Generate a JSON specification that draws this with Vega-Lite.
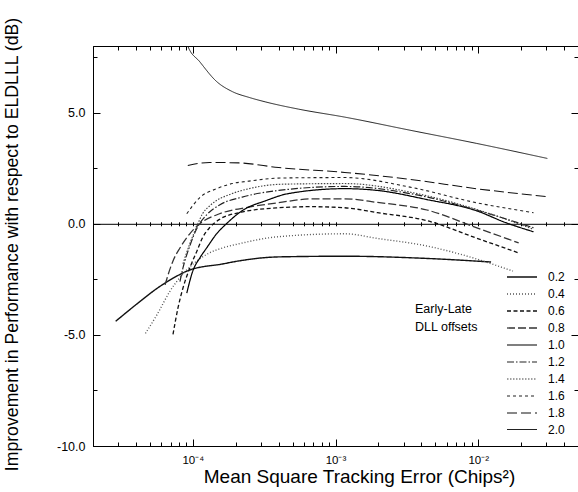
{
  "$schema": "https://vega.github.io/schema/vega-lite/v6.json",
  "width": 485,
  "height": 400,
  "autosize": {"type": "none"},
  "padding": {"left": 93, "top": 46, "right": 0, "bottom": 46},
  "background": "white",
  "config": {
    "font": "Liberation Sans",
    "view": {"stroke": "black", "strokeWidth": 1},
    "axis": {"grid": false, "domainColor": "black", "labelColor": "black", "titleColor": "black", "titleFontWeight": "normal", "labelFont": "Liberation Sans", "titleFont": "Liberation Sans"}
  },
  "data": {
    "values": [
      {"offset": "0.2", "x": 2.88e-5, "y": -4.39},
      {"offset": "0.2", "x": 4.30e-5, "y": -3.48},
      {"offset": "0.2", "x": 5.64e-5, "y": -2.90},
      {"offset": "0.2", "x": 7.27e-5, "y": -2.45},
      {"offset": "0.2", "x": 9.53e-5, "y": -2.08},
      {"offset": "0.2", "x": 1.61e-4, "y": -1.81},
      {"offset": "0.2", "x": 2.11e-4, "y": -1.67},
      {"offset": "0.2", "x": 4.0e-4, "y": -1.49},
      {"offset": "0.2", "x": 1.16e-3, "y": -1.46},
      {"offset": "0.2", "x": 4.37e-3, "y": -1.56},
      {"offset": "0.2", "x": 1.23e-2, "y": -1.72},

      {"offset": "0.4", "x": 4.66e-5, "y": -4.93},
      {"offset": "0.4", "x": 5.64e-5, "y": -4.07},
      {"offset": "0.4", "x": 6.93e-5, "y": -3.03},
      {"offset": "0.4", "x": 8.53e-5, "y": -2.26},
      {"offset": "0.4", "x": 1.07e-4, "y": -1.67},
      {"offset": "0.4", "x": 1.31e-4, "y": -1.31},
      {"offset": "0.4", "x": 1.61e-4, "y": -1.09},
      {"offset": "0.4", "x": 2.11e-4, "y": -0.90},
      {"offset": "0.4", "x": 4.0e-4, "y": -0.58},
      {"offset": "0.4", "x": 1.16e-3, "y": -0.45},
      {"offset": "0.4", "x": 1.97e-3, "y": -0.66},
      {"offset": "0.4", "x": 4.37e-3, "y": -1.0},
      {"offset": "0.4", "x": 7.4e-3, "y": -1.36},
      {"offset": "0.4", "x": 1.75e-2, "y": -2.13},

      {"offset": "0.6", "x": 7.27e-5, "y": -4.98},
      {"offset": "0.6", "x": 7.87e-5, "y": -3.8},
      {"offset": "0.6", "x": 8.53e-5, "y": -2.9},
      {"offset": "0.6", "x": 9.53e-5, "y": -1.99},
      {"offset": "0.6", "x": 1.07e-4, "y": -1.22},
      {"offset": "0.6", "x": 1.17e-4, "y": -0.63},
      {"offset": "0.6", "x": 1.31e-4, "y": -0.18},
      {"offset": "0.6", "x": 1.54e-4, "y": 0.2},
      {"offset": "0.6", "x": 2.11e-4, "y": 0.5},
      {"offset": "0.6", "x": 4.0e-4, "y": 0.72},
      {"offset": "0.6", "x": 6.76e-4, "y": 0.77},
      {"offset": "0.6", "x": 1.16e-3, "y": 0.72},
      {"offset": "0.6", "x": 1.97e-3, "y": 0.5},
      {"offset": "0.6", "x": 4.37e-3, "y": 0.14},
      {"offset": "0.6", "x": 9.68e-3, "y": -0.64},
      {"offset": "0.6", "x": 1.92e-2, "y": -1.31},

      {"offset": "0.8", "x": 6.4e-5, "y": -2.75},
      {"offset": "0.8", "x": 6.61e-5, "y": -2.44},
      {"offset": "0.8", "x": 7.27e-5, "y": -1.67},
      {"offset": "0.8", "x": 8.13e-5, "y": -1.09},
      {"offset": "0.8", "x": 9.53e-5, "y": -0.45},
      {"offset": "0.8", "x": 1.12e-4, "y": 0.0},
      {"offset": "0.8", "x": 1.54e-4, "y": 0.45},
      {"offset": "0.8", "x": 2.48e-4, "y": 0.75},
      {"offset": "0.8", "x": 4.0e-4, "y": 0.95},
      {"offset": "0.8", "x": 6.76e-4, "y": 1.12},
      {"offset": "0.8", "x": 1.16e-3, "y": 1.12},
      {"offset": "0.8", "x": 1.97e-3, "y": 0.96},
      {"offset": "0.8", "x": 4.37e-3, "y": 0.62},
      {"offset": "0.8", "x": 9.68e-3, "y": -0.17},
      {"offset": "0.8", "x": 1.92e-2, "y": -0.86},

      {"offset": "1.0", "x": 9.08e-5, "y": -3.12},
      {"offset": "1.0", "x": 1.0e-4, "y": -2.13},
      {"offset": "1.0", "x": 1.12e-4, "y": -1.54},
      {"offset": "1.0", "x": 1.25e-4, "y": -1.09},
      {"offset": "1.0", "x": 1.47e-4, "y": -0.45},
      {"offset": "1.0", "x": 1.72e-4, "y": 0.0},
      {"offset": "1.0", "x": 2.22e-4, "y": 0.59},
      {"offset": "1.0", "x": 3.25e-4, "y": 1.04},
      {"offset": "1.0", "x": 4.69e-4, "y": 1.36},
      {"offset": "1.0", "x": 1.16e-3, "y": 1.58},
      {"offset": "1.0", "x": 1.97e-3, "y": 1.5},
      {"offset": "1.0", "x": 4.37e-3, "y": 1.09},
      {"offset": "1.0", "x": 9.68e-3, "y": 0.59},
      {"offset": "1.0", "x": 1.56e-2, "y": 0.05},
      {"offset": "1.0", "x": 2.44e-2, "y": -0.36},

      {"offset": "1.2", "x": 8.13e-5, "y": -2.6},
      {"offset": "1.2", "x": 8.53e-5, "y": -2.0},
      {"offset": "1.2", "x": 9.53e-5, "y": -1.0},
      {"offset": "1.2", "x": 1.07e-4, "y": -0.2},
      {"offset": "1.2", "x": 1.25e-4, "y": 0.4},
      {"offset": "1.2", "x": 1.54e-4, "y": 0.85},
      {"offset": "1.2", "x": 2.22e-4, "y": 1.2},
      {"offset": "1.2", "x": 4.0e-4, "y": 1.5},
      {"offset": "1.2", "x": 1.16e-3, "y": 1.68},
      {"offset": "1.2", "x": 3.72e-3, "y": 1.3},
      {"offset": "1.2", "x": 9.68e-3, "y": 0.62},
      {"offset": "1.2", "x": 2.44e-2, "y": -0.18},

      {"offset": "1.4", "x": 8.53e-5, "y": -1.8},
      {"offset": "1.4", "x": 9.53e-5, "y": -0.9},
      {"offset": "1.4", "x": 1.07e-4, "y": -0.1},
      {"offset": "1.4", "x": 1.17e-4, "y": 0.45},
      {"offset": "1.4", "x": 1.31e-4, "y": 0.8},
      {"offset": "1.4", "x": 1.89e-4, "y": 1.36},
      {"offset": "1.4", "x": 2.48e-4, "y": 1.58},
      {"offset": "1.4", "x": 4.2e-4, "y": 1.78},
      {"offset": "1.4", "x": 1.16e-3, "y": 1.81},
      {"offset": "1.4", "x": 3.72e-3, "y": 1.36},
      {"offset": "1.4", "x": 9.68e-3, "y": 0.65},
      {"offset": "1.4", "x": 2.44e-2, "y": -0.25},

      {"offset": "1.6", "x": 9.08e-5, "y": 0.45},
      {"offset": "1.6", "x": 1.12e-4, "y": 1.18},
      {"offset": "1.6", "x": 1.47e-4, "y": 1.58},
      {"offset": "1.6", "x": 1.89e-4, "y": 1.81},
      {"offset": "1.6", "x": 2.48e-4, "y": 1.92},
      {"offset": "1.6", "x": 4.2e-4, "y": 2.06},
      {"offset": "1.6", "x": 1.16e-3, "y": 2.08},
      {"offset": "1.6", "x": 3.33e-3, "y": 1.65},
      {"offset": "1.6", "x": 9.68e-3, "y": 0.95},
      {"offset": "1.6", "x": 2.44e-2, "y": 0.5},

      {"offset": "1.8", "x": 9.23e-5, "y": 2.62},
      {"offset": "1.8", "x": 1.31e-4, "y": 2.76},
      {"offset": "1.8", "x": 2.11e-4, "y": 2.74},
      {"offset": "1.8", "x": 4.0e-4, "y": 2.53},
      {"offset": "1.8", "x": 1.16e-3, "y": 2.31},
      {"offset": "1.8", "x": 3.33e-3, "y": 2.0},
      {"offset": "1.8", "x": 9.68e-3, "y": 1.58},
      {"offset": "1.8", "x": 3.05e-2, "y": 1.22},

      {"offset": "2.0", "x": 8.6e-5, "y": 8.6},
      {"offset": "2.0", "x": 9.23e-5, "y": 8.0},
      {"offset": "2.0", "x": 1.12e-4, "y": 7.29},
      {"offset": "2.0", "x": 1.47e-4, "y": 6.4},
      {"offset": "2.0", "x": 1.89e-4, "y": 5.95},
      {"offset": "2.0", "x": 2.5e-4, "y": 5.68},
      {"offset": "2.0", "x": 3.25e-4, "y": 5.48},
      {"offset": "2.0", "x": 5.5e-4, "y": 5.16},
      {"offset": "2.0", "x": 1.16e-3, "y": 4.80},
      {"offset": "2.0", "x": 3.33e-3, "y": 4.21},
      {"offset": "2.0", "x": 9.68e-3, "y": 3.62},
      {"offset": "2.0", "x": 3.05e-2, "y": 2.94}
    ]
  },
  "layer": [
    {
      "mark": {"type": "line", "clip": true, "interpolate": "monotone", "strokeCap": "butt"},
      "encoding": {
        "x": {
          "field": "x", "type": "quantitative",
          "scale": {"type": "log", "domain": [2e-5, 5e-2], "nice": false},
          "axis": {
            "orient": "bottom",
            "title": "Mean Square Tracking Error (Chips²)",
            "titleFontSize": 19,
            "titleX": 266, "titleY": 36, "titleBaseline": "alphabetic", "titleAlign": "center",
            "values": [1e-4, 1e-3, 1e-2],
            "labelExpr": "datum.value < 5e-4 ? '10⁻⁴' : (datum.value < 5e-3 ? '10⁻³' : '10⁻²')",
            "labelFontSize": 11.5,
            "ticks": true, "tickSize": 0,
            "labelFlush": false,
            "labelPadding": 8
          }
        },
        "y": {
          "field": "y", "type": "quantitative",
          "scale": {"domain": [-10, 8], "nice": false, "zero": false},
          "axis": {
            "orient": "left",
            "title": "Improvement in Performance with respect to ELDLLL (dB)",
            "titleFontSize": 17.7,
            "titleX": -76, "titleY": 198, "titleAngle": 270, "titleBaseline": "alphabetic", "titleAlign": "center",
            "values": [-10, -5, 0, 5],
            "labelExpr": "replace(format(datum.value, '.1f'), '−', '-')",
            "labelFontSize": 12.5,
            "ticks": true, "tickSize": 0,
            "labelPadding": 8
          }
        },
        "color": {
          "field": "offset", "type": "ordinal",
          "scale": {"domain": ["0.2","0.4","0.6","0.8","1.0","1.2","1.4","1.6","1.8","2.0"],
                    "range": ["#111111","#555555","#111111","#333333","#000000","#222222","#444444","#222222","#111111","#222222"]},
          "legend": {
            "title": ["Early-Late", "DLL offsets"],
            "orient": "none", "legendX": 322, "legendY": 220,
            "titleOrient": "left", "titleAnchor": "start", "titleAlign": "left", "titleBaseline": "top",
            "titleFontSize": 12.5, "titleFontWeight": "normal", "titleLineHeight": 18, "titlePadding": 32,
            "titleColor": "black", "labelColor": "black",
            "symbolType": "M-1.5,0H1.5", "symbolSize": 400, "labelFontSize": 12, "labelOffset": 15,
            "rowPadding": 0, "padding": 0,
            "encode": {"title": {"update": {"dy": {"value": 37}}}}
          }
        },
        "strokeDash": {
          "field": "offset", "type": "ordinal",
          "scale": {"domain": ["0.2","0.4","0.6","0.8","1.0","1.2","1.4","1.6","1.8","2.0"],
                    "range": [[1,0],[1,2],[4,2.5],[8,3],[1,0],[7,2,1.5,2],[1.5,1.5],[3,3],[10,4],[1,0]]},
          "legend": {
            "title": ["Early-Late", "DLL offsets"],
            "orient": "none", "legendX": 322, "legendY": 220,
            "titleOrient": "left", "titleAnchor": "start", "titleAlign": "left", "titleBaseline": "top",
            "titleFontSize": 12.5, "titleFontWeight": "normal", "titleLineHeight": 18, "titlePadding": 32,
            "titleColor": "black", "labelColor": "black",
            "symbolType": "M-1.5,0H1.5", "symbolSize": 400, "labelFontSize": 12, "labelOffset": 15,
            "rowPadding": 0, "padding": 0,
            "encode": {"title": {"update": {"dy": {"value": 37}}}}
          }
        },
        "strokeWidth": {
          "field": "offset", "type": "ordinal",
          "scale": {"domain": ["0.2","0.4","0.6","0.8","1.0","1.2","1.4","1.6","1.8","2.0"],
                    "range": [1.4,1.0,1.3,1.0,2.2,1.0,1.0,1.0,1.6,0.8]},
          "legend": {
            "title": ["Early-Late", "DLL offsets"],
            "orient": "none", "legendX": 322, "legendY": 220,
            "titleOrient": "left", "titleAnchor": "start", "titleAlign": "left", "titleBaseline": "top",
            "titleFontSize": 12.5, "titleFontWeight": "normal", "titleLineHeight": 18, "titlePadding": 32,
            "titleColor": "black", "labelColor": "black",
            "symbolType": "M-1.5,0H1.5", "symbolSize": 400, "labelFontSize": 12, "labelOffset": 15,
            "rowPadding": 0, "padding": 0,
            "encode": {"title": {"update": {"dy": {"value": 37}}}}
          }
        },
        "detail": {"field": "offset"}
      }
    },
    {
      "mark": {"type": "line", "strokeOpacity": 0},
      "encoding": {
        "x": {"field": "x", "type": "quantitative",
          "axis": {"orient": "bottom", "title": null, "labels": false, "domain": false, "ticks": false,
                   "grid": true, "gridColor": "black", "gridOpacity": 1, "gridWidth": 1, "gridDash": [7, 386, 7, 1000],
                   "values": [1e-4, 1e-3, 1e-2]}},
        "y": {"field": "y", "type": "quantitative",
          "axis": {"orient": "left", "title": null, "labels": false, "domain": false, "ticks": false,
                   "grid": true, "gridColor": "black", "gridOpacity": 1, "gridWidth": 1, "gridDash": [7, 471, 7, 1000],
                   "values": [-10, -5, 0, 5]}},
        "detail": {"field": "offset"}
      }
    },
    {
      "mark": {"type": "line", "strokeOpacity": 0},
      "encoding": {
        "x": {"field": "x", "type": "quantitative",
          "axis": {"orient": "bottom", "title": null, "labels": false, "domain": false, "ticks": false,
                   "grid": true, "gridColor": "black", "gridOpacity": 1, "gridWidth": 1, "gridDash": [4, 392, 4, 1000],
                   "values": [2e-5,3e-5,4e-5,5e-5,6e-5,7e-5,8e-5,9e-5,2e-4,3e-4,4e-4,5e-4,6e-4,7e-4,8e-4,9e-4,2e-3,3e-3,4e-3,5e-3,6e-3,7e-3,8e-3,9e-3,2e-2,3e-2,4e-2]}},
        "y": {"field": "y", "type": "quantitative",
          "axis": {"orient": "left", "title": null, "labels": false, "domain": false, "ticks": false,
                   "grid": true, "gridColor": "black", "gridOpacity": 1, "gridWidth": 1, "gridDash": [4, 477, 4, 1000],
                   "values": [-7.5, -2.5, 2.5, 7.5]}},
        "detail": {"field": "offset"}
      }
    },
    {
      "mark": {"type": "line", "strokeOpacity": 0},
      "encoding": {
        "x": {"field": "x", "type": "quantitative",
          "axis": {"orient": "bottom", "title": null, "labels": false, "domain": false, "ticks": false,
                   "grid": true, "gridColor": "black", "gridOpacity": 1, "gridWidth": 1, "gridDash": [0, 175.8, 4, 1000],
                   "values": [2e-5,3e-5,4e-5,5e-5,6e-5,7e-5,8e-5,9e-5,1e-4,2e-4,3e-4,4e-4,5e-4,6e-4,7e-4,8e-4,9e-4,1e-3,2e-3,3e-3,4e-3,5e-3,6e-3,7e-3,8e-3,9e-3,1e-2,2e-2,3e-2,4e-2]}},
        "y": {"field": "y", "type": "quantitative", "axis": null},
        "detail": {"field": "offset"}
      }
    },
    {
      "mark": {"type": "line", "strokeOpacity": 0},
      "encoding": {
        "x": {"field": "x", "type": "quantitative",
          "axis": {"orient": "bottom", "offset": -222.2, "title": null, "labels": false, "domain": true, "ticks": false,
                   "values": [1e-4, 1e-3, 1e-2]}},
        "y": {"field": "y", "type": "quantitative", "axis": null},
        "detail": {"field": "offset"}
      }
    }
  ],
  "resolve": {"axis": {"x": "independent", "y": "independent"}}
}
